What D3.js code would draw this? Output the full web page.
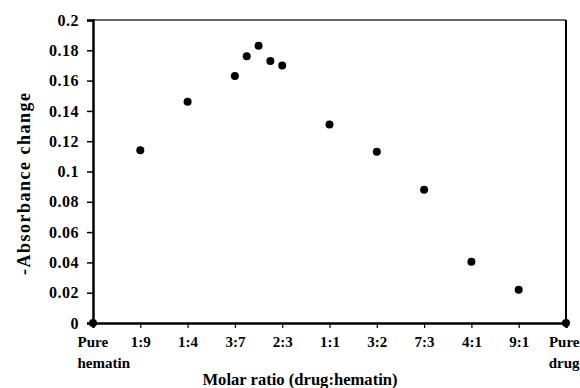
<!DOCTYPE html>
<html>
<head>
<meta charset="utf-8">
<script src="https://cdn.jsdelivr.net/npm/d3@7"></script>
<style>
  body { margin: 0; background: #fff; }
  svg { display: block; font-family: "Liberation Serif", "Times New Roman", serif; }
  svg text { font-family: "Liberation Serif", "Times New Roman", serif; font-weight: bold; fill: #000; }
</style>
</head>
<body>
<div class="graph-container"></div>
<script>
// data: x = drug fraction, y = -absorbance change
const drugFraction = [0, 0.1, 0.2, 0.3, 0.325, 0.35, 0.375, 0.4, 0.5, 0.6, 0.7, 0.8, 0.9, 1];
const absChange = [0, 0.114, 0.146, 0.163, 0.176, 0.183, 0.173, 0.170, 0.131, 0.113, 0.088, 0.0405, 0.022, 0];
const xTickValues = [0, 0.1, 0.2, 0.3, 0.4, 0.5, 0.6, 0.7, 0.8, 0.9, 1];
const xTickLabels = ["Pure|hematin", "1:9", "1:4", "3:7", "2:3", "1:1", "3:2", "7:3", "4:1", "9:1", "Pure|drug"];
const yTickValues = [0, 0.02, 0.04, 0.06, 0.08, 0.1, 0.12, 0.14, 0.16, 0.18, 0.2];
const yTickLabels = ["0", "0.02", "0.04", "0.06", "0.08", "0.1", "0.12", "0.14", "0.16", "0.18", "0.2"];

const w = 580;
const h = 388;
const plotLeft = 93, plotRight = 566, plotTop = 20, plotBottom = 323;
const serif = '"Liberation Serif", "Times New Roman", serif';

const xScale = d3.scaleLinear().domain([0, 1]).range([plotLeft, plotRight]);
const yScale = d3.scaleLinear().domain([0, 0.2]).range([plotBottom, plotTop]);

const svg = d3.select('.graph-container')
  .append("svg")
  .attr("width", w)
  .attr("height", h);

// frame top + right
svg.append("line")
  .attr("x1", plotLeft).attr("x2", plotRight)
  .attr("y1", plotTop).attr("y2", plotTop)
  .attr("stroke", "#333").attr("stroke-width", 1.5);
svg.append("line")
  .attr("x1", plotRight).attr("x2", plotRight)
  .attr("y1", plotTop).attr("y2", plotBottom)
  .attr("stroke", "#000").attr("stroke-width", 2);

const yAxis = d3.axisLeft(yScale)
  .tickValues(yTickValues)
  .tickFormat((d, i) => yTickLabels[i])
  .tickSize(6)
  .tickPadding(8);

const gy = svg.append("g")
  .attr("transform", "translate(" + plotLeft + ",0)")
  .call(yAxis)
  .attr("font-family", serif);
gy.select(".domain").attr("stroke-width", 2.5);
gy.selectAll(".tick line").attr("stroke-width", 1.5);
gy.selectAll(".tick text")
  .style("font-size", "16px")
  .style("letter-spacing", "0.5px");

const xAxis = d3.axisBottom(xScale)
  .tickValues(xTickValues)
  .tickFormat("")
  .tickSize(5);

const gx = svg.append("g")
  .attr("transform", "translate(0," + plotBottom + ")")
  .call(xAxis)
  .attr("font-family", serif);
gx.select(".domain").attr("stroke-width", 2.5);
gx.selectAll(".tick line").attr("stroke-width", 1.2);

gx.selectAll(".tick").each(function(d, i) {
  const parts = xTickLabels[i].split("|");
  const off = parts.length > 1 ? (i === 0 ? -16 : 13) : 0;
  const t = d3.select(this).append("text")
    .attr("y", 23.5)
    .attr("text-anchor", parts.length > 1 ? (i === 0 ? "start" : "end") : "middle")
    .style("font-size", "15px");
  parts.forEach((p, k) => {
    t.append("tspan")
      .attr("x", off)
      .attr("dy", k === 0 ? 0 : 21)
      .text(p);
  });
});

// points
svg.selectAll("circle.pt")
  .data(drugFraction)
  .enter()
  .append("circle")
  .attr("class", "pt")
  .attr("cx", d => xScale(d))
  .attr("cy", (d, i) => yScale(absChange[i]))
  .attr("r", 4)
  .attr("fill", "#000");

// axis titles
svg.append("text")
  .attr("x", 300)
  .attr("y", 385)
  .attr("text-anchor", "middle")
  .style("font-size", "16.6px")
  .text("Molar ratio (drug:hematin)");

svg.append("text")
  .attr("transform", "translate(30,184) rotate(-90)")
  .attr("text-anchor", "middle")
  .attr("textLength", 182)
  .style("font-size", "18px")
  .text("-Absorbance change");
</script>
</body>
</html>
